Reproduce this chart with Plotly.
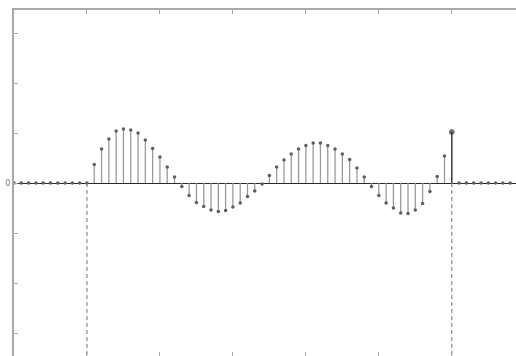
import numpy as np
import plotly.graph_objects as go

# Sample indices and the windowed sequence x[n] (zero outside 0..50)
n_pre = list(range(-10, 0))
n_sig = list(range(0, 51))
n_post = list(range(51, 59))

x_sig = [0.00, 0.37, 0.68, 0.88, 1.04, 1.08, 1.06, 1.00, 0.86, 0.69,
         0.52, 0.32, 0.12, -0.07, -0.25, -0.39, -0.47, -0.54, -0.57, -0.55,
         -0.48, -0.40, -0.27, -0.16, -0.02, 0.15, 0.32, 0.46, 0.58, 0.68,
         0.75, 0.80, 0.80, 0.75, 0.68, 0.58, 0.47, 0.30, 0.12, -0.07,
         -0.25, -0.40, -0.50, -0.60, -0.61, -0.54, -0.41, -0.17, 0.13, 0.54,
         1.02]

n_all = n_pre + n_sig + n_post
x_all = [0.0] * len(n_pre) + x_sig + [0.0] * len(n_post)

y_range = [-3.46, 3.46]
x_range = [-10, 58.8]
y_ticks = [-3, -2, -1, 0, 1, 2, 3]
y_ticktext = ["", "", "", "0", "", "", ""]
x_ticks = [-10, 0, 10, 20, 30, 40, 50, 60]

fig = go.Figure()

# stems for the interior samples
sx, sy = [], []
for k, v in zip(n_sig[:-1], x_sig[:-1]):
    sx += [k, k, None]
    sy += [0, v, None]
fig.add_trace(go.Scatter(x=sx, y=sy, mode="lines",
                         line=dict(color="#9a9a9a", width=1.3),
                         hoverinfo="skip", showlegend=False))

# window boundaries (dashed, below the baseline)
for k in (n_sig[0], n_sig[-1]):
    fig.add_trace(go.Scatter(x=[k, k], y=[0, y_range[0]], mode="lines",
                             line=dict(color="#8a8a8a", width=1.2, dash="4px,3px"),
                             hoverinfo="skip", showlegend=False))

# sample markers
fig.add_trace(go.Scatter(x=n_all[:-len(n_post) - 1] + n_post,
                         y=x_all[:-len(n_post) - 1] + [0.0] * len(n_post),
                         mode="markers",
                         marker=dict(symbol="circle", size=3.5, color="#5e5e5e"),
                         hoverinfo="skip", showlegend=False))

# final sample drawn heavier
fig.add_trace(go.Scatter(x=[n_sig[-1], n_sig[-1]], y=[0, x_sig[-1]], mode="lines+markers",
                         line=dict(color="#444444", width=1.6),
                         marker=dict(size=[0, 5], color="#333333"),
                         hoverinfo="skip", showlegend=False))

fig.update_layout(
    width=516, height=356,
    margin=dict(l=14, r=0, t=10, b=0),
    paper_bgcolor="white", plot_bgcolor="white",
    font=dict(family="DejaVu Sans", size=8, color="#777777"),
    xaxis=dict(range=x_range, showgrid=False, zeroline=False,
               showline=True, linecolor="#a8a8a8", linewidth=2, mirror="ticks",
               ticks="inside", ticklen=4, tickcolor="#a8a8a8", tickwidth=1,
               tickvals=x_ticks, showticklabels=False),
    yaxis=dict(range=y_range, showgrid=False,
               zeroline=True, zerolinecolor="#2a2a2a", zerolinewidth=1.2,
               showline=True, linecolor="#a8a8a8", linewidth=2,
               ticks="inside", ticklen=4, tickcolor="#a8a8a8", tickwidth=1,
               tickvals=y_ticks, ticktext=y_ticktext, ticklabelstandoff=0),
)

fig.write_html("out.html")
